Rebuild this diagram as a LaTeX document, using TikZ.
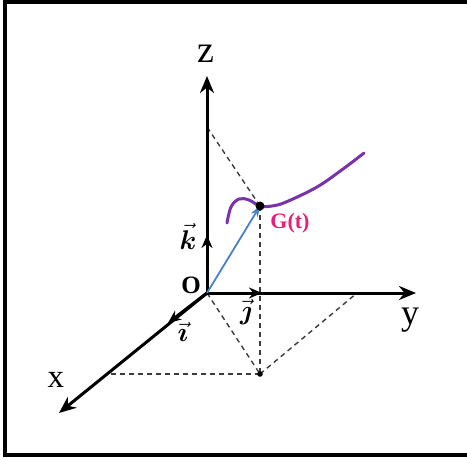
\RequirePackage{fix-cm}
\documentclass[tikz,border=0pt]{standalone}
\usepackage{amsmath,amsbsy}
\usepackage{fontspec}
\setmainfont{Liberation Serif}
\usetikzlibrary{arrows.meta}
\definecolor{curvec}{RGB}{120,50,170}
\definecolor{bluec}{RGB}{70,130,200}
\definecolor{magc}{RGB}{232,30,120}
\definecolor{dashc}{RGB}{60,60,60}
\tikzset{
  axis/.style={line width=3pt,-{Stealth[length=17pt,width=14pt]}},
  unitvec/.style={line width=3pt,-{Stealth[length=13pt,width=11pt]}},
  proj/.style={dashc,line width=1.4pt,dash pattern=on 5pt off 4pt},
  lbl/.style={inner sep=0pt,anchor=center},
}
\begin{document}
\begin{tikzpicture}[x=1pt,y=-1pt]
\useasboundingbox (0,0) rectangle (467,459);
% frame
\draw[line width=4pt] (470,1.5) -- (5,1.5) -- (5,455) -- (470,455);
% points
\coordinate (O) at (207,293);
\coordinate (G) at (260,206);
\coordinate (P) at (260,374);
\coordinate (Zp) at (207,127);
\coordinate (Xp) at (108,374);
\coordinate (Yp) at (357,293);
\coordinate (Zend) at (207,76);
\coordinate (Yend) at (416,293);
\coordinate (Xend) at (59,413);
\coordinate (Kend) at (207,235);
\coordinate (Jend) at (262,293);
\coordinate (Iend) at (168,323);
% projections
\draw[proj] (G) -- (Zp);
\draw[proj] (G) -- (P);
\draw[proj] (O) -- (P);
\draw[proj] (P) -- (Xp);
\draw[proj] (P) -- (Yp);
% axes
\draw[axis] (O) -- (Zend);
\draw[axis] (O) -- (Yend);
\draw[axis] (O) -- (Xend);
\draw[unitvec] (O) -- (Kend);
\draw[unitvec] (O) -- (Jend);
\draw[unitvec] (O) -- (Iend);
% position vector
\draw[bluec,line width=1.8pt,-{Stealth[length=11pt,width=8pt]}] (O) -- (G);
% curve
\draw[curvec,line width=3pt,line cap=round] plot[smooth,tension=0.6] coordinates
  {(227,223) (231,207) (239,199) (249,200) (260,206) (272,206) (286,202) (317,187) (343,169) (364,153)};
\fill (G) circle (4.5pt);
\fill (P) circle (2.8pt);
% labels
\node[lbl,font=\fontsize{38}{40}\selectfont] (zl) at (206,54) {z};
\node[lbl,font=\fontsize{36}{40}\selectfont] (yl) at (410,320) {y};
\node[lbl,font=\fontsize{33}{36}\selectfont] (xl) at (56,380) {x};
\node[lbl,font=\fontsize{25}{28}\selectfont\bfseries] (ol) at (191,285) {O};
\node[lbl,font=\fontsize{22}{24}\selectfont\bfseries,text=magc] (gl) at (290,223) {G(t)};
\node[lbl,font=\fontsize{27}{30}\selectfont] (kl) at (188,236) {$\vec{\boldsymbol{k}}$};
\node[lbl,font=\fontsize{27}{30}\selectfont] (jl) at (246,312) {$\vec{\boldsymbol{\jmath}}$};
\node[lbl,font=\fontsize{27}{30}\selectfont] (il) at (183,332) {$\vec{\boldsymbol{\imath}}$};
\end{tikzpicture}
\end{document}
